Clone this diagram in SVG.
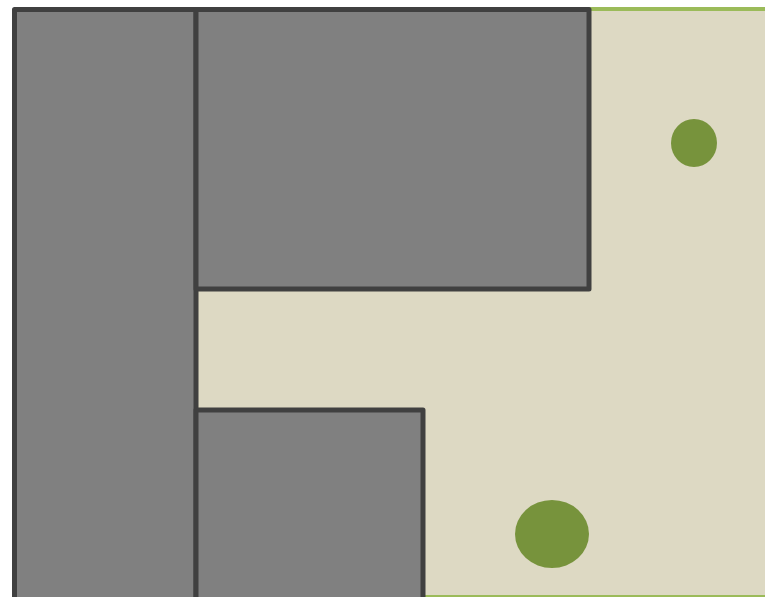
<svg xmlns="http://www.w3.org/2000/svg" width="765" height="597" viewBox="0 0 765 597">
<style>
.bld{fill:#808080;stroke:#404040;stroke-width:5;stroke-linejoin:round}
.tree{fill:#77933C}
</style>
<rect width="765" height="597" fill="#ffffff"/>
<g id="ground">
<rect x="150" y="9" width="640" height="588" fill="#DDD9C3" stroke="#9BBB59" stroke-width="4"/>
</g>
<g id="building-left"><rect class="bld" x="14.5" y="9.5" width="181.5" height="600"/></g>
<g id="building-top"><rect class="bld" x="196" y="9.5" width="393" height="279.5"/></g>
<g id="building-bottom"><rect class="bld" x="196" y="410" width="227" height="200"/></g>
<g id="tree-1"><ellipse class="tree" cx="694" cy="143" rx="23" ry="24"/></g>
<g id="tree-2"><ellipse class="tree" cx="552" cy="534" rx="37" ry="34"/></g>
<g id="connectors"></g>
</svg>
